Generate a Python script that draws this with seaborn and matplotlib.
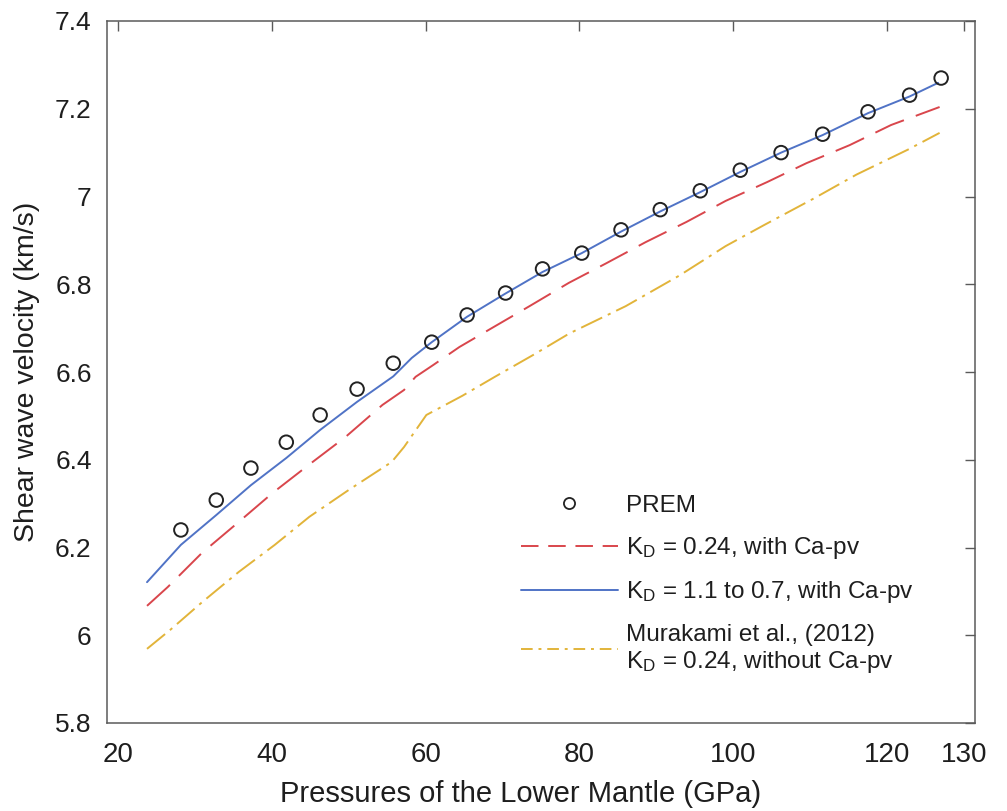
import numpy as np
import pandas as pd
import matplotlib
matplotlib.use("Agg")
import matplotlib.pyplot as plt
import seaborn as sns
from matplotlib.ticker import FuncFormatter
from matplotlib.lines import Line2D

# ---------------- data ----------------
prem_p = [28.2, 32.8, 37.3, 41.9, 46.3, 51.1, 55.8, 60.8, 65.4, 70.4, 75.2,
          80.3, 85.4, 90.5, 95.7, 100.9, 106.2, 111.6, 117.5, 122.9, 127.0]
prem_vs = [6.240, 6.308, 6.381, 6.440, 6.502, 6.561, 6.620, 6.668, 6.730, 6.780, 6.835,
           6.871, 6.924, 6.970, 7.013, 7.060, 7.100, 7.142, 7.193, 7.231, 7.270]

blue_p = [23.8, 28.2, 32.8, 37.3, 41.9, 46.3, 51.1, 55.8, 58.2, 60.8, 65.4, 70.3,
          75.2, 80.3, 85.4, 90.5, 95.7, 100.9, 106.2, 111.6, 117.5, 122.9, 126.6]
blue_vs = [6.121, 6.206, 6.274, 6.342, 6.404, 6.468, 6.532, 6.590, 6.632, 6.668, 6.726, 6.778,
           6.828, 6.871, 6.920, 6.966, 7.010, 7.056, 7.100, 7.140, 7.190, 7.228, 7.259]

red_p = [23.8, 26.5, 30.9, 35.7, 40.1, 44.8, 49.6, 54.4, 57.2, 58.7, 61.0, 64.4,
         68.6, 73.5, 78.6, 83.5, 88.6, 93.9, 99.0, 104.4, 109.5, 115.1, 120.5, 126.8]
red_vs = [6.067, 6.110, 6.187, 6.258, 6.324, 6.388, 6.452, 6.525, 6.559, 6.589, 6.616, 6.657,
          6.700, 6.750, 6.803, 6.848, 6.896, 6.942, 6.990, 7.033, 7.076, 7.117, 7.163, 7.204]

yel_p = [23.8, 26.8, 31.0, 35.7, 40.4, 44.9, 50.0, 55.6, 57.2, 60.1, 64.8, 69.0,
         74.0, 78.7, 86.0, 93.0, 99.0, 104.0, 110.4, 116.0, 122.7, 126.8]
yel_vs = [5.969, 6.012, 6.076, 6.144, 6.206, 6.270, 6.331, 6.395, 6.429, 6.502, 6.546, 6.589,
          6.639, 6.688, 6.750, 6.820, 6.887, 6.935, 6.995, 7.050, 7.107, 7.145]

x_ticks = [20, 40, 60, 80, 100, 120, 130]
y_ticks = [5.8, 6.0, 6.2, 6.4, 6.6, 6.8, 7.0, 7.2, 7.4]

labels = ["PREM",
          r"K$_{\mathrm{D}}$ = 0.24, with Ca-pv",
          r"K$_{\mathrm{D}}$ = 1.1 to 0.7, with Ca-pv",
          "Murakami et al., (2012)\n" + r"K$_{\mathrm{D}}$ = 0.24, without Ca-pv"]

# ---------------- style ----------------
sns.set_style("white")
plt.rcParams["font.family"] = ["Liberation Sans", "DejaVu Sans"]
plt.rcParams["mathtext.fontset"] = "custom"
plt.rcParams["mathtext.rm"] = "Liberation Sans"
plt.rcParams["mathtext.it"] = "Liberation Sans:italic"
plt.rcParams["mathtext.bf"] = "Liberation Sans:bold"

c_blue = "#5073C6"
c_red = "#D9464C"
c_yel = "#E2B43A"
c_txt = "#1e1e1e"
c_axis = "#5a5a5a"

fig = plt.figure(figsize=(10.07, 8.11), dpi=100)
ax = fig.add_axes([107 / 1007, 1 - 723 / 811, 868 / 1007, 702 / 811])

lw = 1.4
sns.lineplot(x=red_p, y=red_vs, ax=ax, color=c_red, lw=lw,
             linestyle=(0, (16.0, 6.5)), sort=False)
sns.lineplot(x=yel_p, y=yel_vs, ax=ax, color=c_yel, lw=lw,
             linestyle=(0, (12.0, 3.2, 1.6, 3.2)), sort=False)
sns.lineplot(x=blue_p, y=blue_vs, ax=ax, color=c_blue, lw=lw, sort=False)
sns.scatterplot(x=prem_p, y=prem_vs, ax=ax, marker="o", s=95,
                facecolors="none", edgecolor="#222222", linewidth=1.4, zorder=5)

ax.set_xlim(18.6, 131.4)
ax.set_ylim(5.8, 7.4)
ax.set_xticks(x_ticks)
ax.set_yticks(y_ticks)
ax.yaxis.set_major_formatter(FuncFormatter(lambda v, p: f"{v:g}"))
ax.xaxis.set_major_formatter(FuncFormatter(lambda v, p: f"{v:g}"))

ax.tick_params(axis="both", direction="in", top=True, right=True,
               length=7, width=1.0, color=c_axis, labelcolor=c_txt)
ax.tick_params(axis="x", labelsize=20, pad=14)
ax.tick_params(axis="y", labelsize=19, pad=11)
for s in ax.spines.values():
    s.set_color(c_axis)
    s.set_linewidth(1.1)

ax.set_xlabel("Pressures of the Lower Mantle (GPa)", fontsize=21, color=c_txt)
ax.set_ylabel("Shear wave velocity (km/s)", fontsize=20.5, color=c_txt)
ax.xaxis.set_label_coords(0.476, -0.081)
ax.yaxis.set_label_coords(-0.077, 0.5)

handles = [
    Line2D([], [], marker="o", ls="none", mfc="none", mec="#222222", ms=8, mew=1.3),
    Line2D([], [], color=c_red, lw=lw, ls=(0, (9, 5))),
    Line2D([], [], color=c_blue, lw=lw),
    Line2D([], [], color=c_yel, lw=lw, ls=(0, (6, 3, 1.5, 3))),
]
leg = ax.legend(handles, labels, loc="upper left", bbox_to_anchor=(0.4765, 0.325),
                frameon=False, fontsize=17.5, handlelength=4.0, handletextpad=0.35,
                labelspacing=0.75, borderpad=0, borderaxespad=0)
for t in leg.get_texts():
    t.set_color(c_txt)

fig.savefig("out.png", dpi=100)
